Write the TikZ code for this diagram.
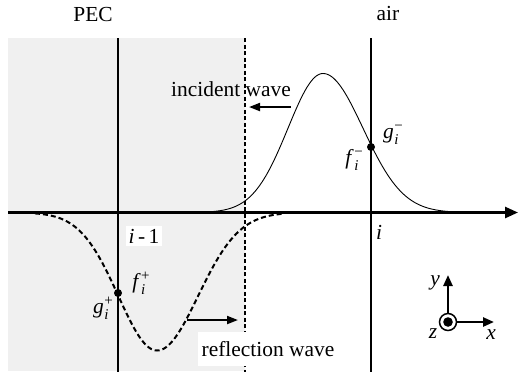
\documentclass[tikz,border=0pt]{standalone}
\usepackage{fontspec}
\setmainfont{Liberation Serif}
\usetikzlibrary{arrows.meta}
\newcommand{\wsym}[3]{\textit{#1}\kern0.5bp\raisebox{-6bp}{\fontsize{15}{13}\selectfont\begin{tabular}[b]{@{}l@{}}#3\\\itshape #2\end{tabular}}}
\begin{document}
\begin{tikzpicture}[x=1bp,y=-1bp,
  lbl/.style={font=\fontsize{21.5}{25}\selectfont, inner sep=1bp},
  whitelbl/.style={lbl, fill=white},
  axisline/.style={line width=2.6bp,-{Triangle[length=13bp,width=11bp]}},
  wavearrow/.style={line width=2bp,-{Triangle[length=11bp,width=8bp]}},
  csarrow/.style={line width=2.4bp,-{Triangle[length=11bp,width=9bp]}},
  gridline/.style={line width=1.5bp},
  dashline/.style={line width=2bp, dash pattern=on 4bp off 2.5bp},
  incwave/.style={line width=0.9bp},
  refwave/.style={line width=2bp, dash pattern=on 5bp off 3bp},
  dot/.style={circle, fill=black, inner sep=0pt, minimum size=8bp},
]
\useasboundingbox (0,0) rectangle (518,378);
% PEC region
\fill[black!6] (8,38) rectangle (245,371);
% vertical grid lines
\coordinate (l1t) at (118,38); \coordinate (l1b) at (118,372);
\coordinate (l2t) at (245,38); \coordinate (l2b) at (245,372);
\coordinate (l3t) at (371,38); \coordinate (l3b) at (371,372);
\draw[gridline] (l1t) -- (l1b);
\draw[dashline] (l2t) -- (l2b);
\draw[gridline] (l3t) -- (l3b);
% axis
\coordinate (ax0) at (8,212.5); \coordinate (ax1) at (518,212.5);
\draw[axisline] (ax0) -- (ax1);
% incident wave
\draw[incwave] plot[domain=210:323, samples=70] (\x,{212.5-139*exp(-0.5*((\x-323)/35)^2)})
  -- plot[domain=323:450, samples=70] (\x,{212.5-139*exp(-0.5*((\x-323)/40)^2)});
% reflection wave
\draw[refwave] plot[domain=35:157, samples=70] (\x,{212.5+138*exp(-0.5*((\x-157)/38.5)^2)})
  -- plot[domain=157:284, samples=70] (\x,{212.5+138*exp(-0.5*((\x-157)/41)^2)});
% wave arrows
\coordinate (ia0) at (291,107); \coordinate (ia1) at (249,107);
\draw[wavearrow] (ia0) -- (ia1);
\coordinate (ra0) at (187,320); \coordinate (ra1) at (238,320);
\draw[wavearrow] (ra0) -- (ra1);
% labels
\node[lbl] (pec) at (93,15) {PEC};
\node[lbl] (air) at (388,14) {air};
\node[lbl] (inc) at (231,89) {incident wave};
\node[whitelbl, inner xsep=4bp, inner ysep=9bp] (refl) at (268,349) {reflection wave};
\node[whitelbl, inner xsep=3bp, inner ysep=3bp] (im1) at (144,236) {\textit{i}\,-\,1};
\node[lbl] (ii) at (379,232) {\textit{i}};
% sample points
\node[dot] (pm) at (371,147) {};
\node[dot] (pp) at (118,293) {};
\node[lbl] (gm) at (393,135) {\wsym{g}{i}{−}};
\node[lbl] (fm) at (354,161) {\wsym{f}{i}{−}};
\node[lbl] (fp) at (141,285) {\wsym{f}{i}{+}};
\node[lbl] (gp) at (103,310) {\wsym{g}{i}{+}};
% coordinate system
\node[circle, draw, line width=1.5bp, minimum size=17bp, inner sep=0pt] (zc) at (448,322) {};
\fill (zc.center) circle (4.8bp);
\coordinate (ytip) at (448,275); \coordinate (xtip) at (494,322);
\draw[csarrow] (zc.north) -- (ytip);
\draw[csarrow] (zc.east) -- (xtip);
\node[lbl] (ylab) at (435,283) {\textit{y}};
\node[lbl] (zlab) at (433,334) {\textit{z}};
\node[lbl] (xlab) at (491,335) {\textit{x}};
\end{tikzpicture}
\end{document}
